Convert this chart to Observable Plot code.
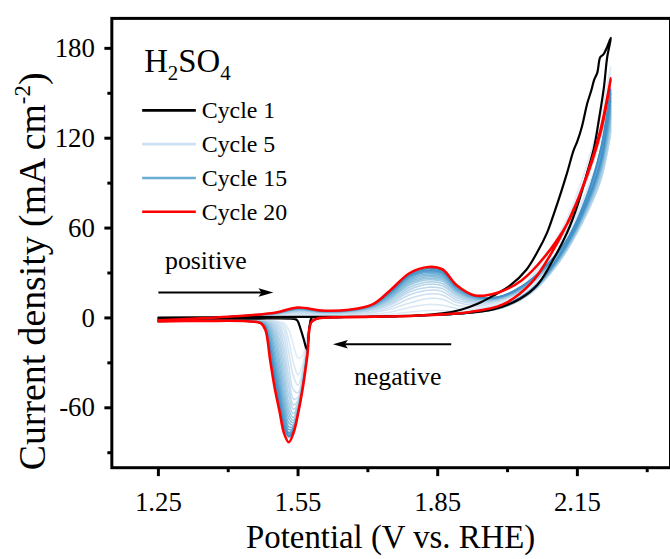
<!DOCTYPE html>
<html>
<head>
<meta charset="utf-8">
<script src="https://cdn.jsdelivr.net/npm/d3@7"></script>
<script src="https://cdn.jsdelivr.net/npm/@observablehq/plot@0.6"></script>
<style>
  html, body { margin: 0; padding: 0; background: #fff; overflow: hidden; }
  #chart { width: 670px; height: 559px; overflow: hidden; }
</style>
</head>
<body>
<div id="chart"></div>
<script>
// ---------- data ----------
// potential grids (V vs. RHE)
const potentialForward = [1.25, 1.40, 1.50, 1.55, 1.60, 1.66, 1.71, 1.75, 1.79, 1.83, 1.86, 1.89, 1.93, 1.98, 2.03, 2.08, 2.13, 2.17, 2.20, 2.222];
const potentialReverse = [2.20, 2.16, 2.11, 2.05, 1.99, 1.92, 1.80, 1.65, 1.59, 1.578, 1.57, 1.56, 1.55, 1.54, 1.53, 1.52, 1.51, 1.50, 1.49, 1.48, 1.47, 1.44, 1.35, 1.25];

// Cycle 1 (own grid)
const cycle1PotentialForward = [1.25, 1.40, 1.55, 1.70, 1.80, 1.86, 1.90, 1.937, 1.97, 2.007, 2.04, 2.064, 2.085, 2.100, 2.115, 2.128, 2.142, 2.150, 2.160, 2.171, 2.180, 2.186, 2.193, 2.199, 2.206, 2.214, 2.222];
const cycle1CurrentForward   = [0.3, 0.4, 0.7, 0.7, 1.5, 3, 5.5, 9.6, 15, 22, 32, 44, 57, 70, 84, 97, 112, 118, 128, 143, 152, 159, 164, 174, 176, 181, 187];
const cycle1PotentialReverse = [2.214, 2.207, 2.196, 2.186, 2.171, 2.150, 2.128, 2.100, 2.064, 2.028, 1.973, 1.90, 1.80, 1.70, 1.60, 1.58, 1.575, 1.569, 1.562, 1.555, 1.548, 1.54, 1.45, 1.35, 1.25];
const cycle1CurrentReverse   = [174, 154, 132, 114, 97, 75, 57, 40, 22, 13, 6, 3, 1.5, 0.8, 0.5, 0.3, -5, -21, -14, -7, -1.5, -0.6, -0.5, -0.5, -0.5];

// Cycle 20
const cycle20CurrentForward = [-1.5, 0.8, 3.5, 7, 5, 5.5, 9, 19, 30, 34, 32.5, 22, 15, 17, 25, 41, 64, 95, 126, 160];
const cycle20CurrentReverse = [124, 86, 52, 23, 9, 4, 1.5, 0.5, -0.5, -3, -25, -47, -64, -77, -83, -77, -62, -47, -28, -8, -3.5, -2.2, -2, -2.3];

// Cycles 2..19 (forward sweep, on potentialForward)
const midCycles = [2, 3, 4, 5, 6, 7, 8, 9, 10, 11, 12, 13, 14, 15, 16, 17, 18, 19];
const midCurrentForward = [
  [-0.8, 0.3, 0.8, 1.5, 1, 1, 1.5, 2.5, 4, 5, 5, 4.5, 5, 9, 20, 40, 68, 102, 135, 168],
  [-1, 0.4, 1.2, 2.3, 1.6, 1.7, 2.5, 4, 7, 9, 8.5, 6.5, 6, 10, 20, 37, 61, 91, 120, 150],
  [-1, 0.5, 1.5, 3, 2.2, 2.3, 3.5, 6, 10, 13, 12.5, 8.5, 7.5, 11, 19, 34, 55, 83, 108, 135],
  [-1.1, 0.5, 1.8, 3.5, 2.6, 2.8, 4, 7.5, 13, 16, 15.3, 10.5, 8.5, 11, 18, 31, 50, 76, 100, 126],
  [-1.1, 0.5, 2, 4, 3, 3.2, 5, 9, 15.5, 18.5, 17.7, 12, 9.5, 11.5, 18, 31, 49, 75, 99, 125],
  [-1.2, 0.6, 2.2, 4.4, 3.3, 3.5, 5.5, 10, 17.5, 20.5, 19.6, 13.5, 10.5, 12, 18, 31, 49, 75, 100, 126],
  [-1.2, 0.6, 2.4, 4.7, 3.5, 3.8, 6, 11, 19, 22.5, 21.5, 15, 11, 12, 18.5, 31, 49.5, 76, 101, 128],
  [-1.2, 0.6, 2.5, 5, 3.7, 4, 6.5, 12, 20.5, 24, 23, 16, 11.5, 12.5, 18.5, 31.5, 50, 76, 102, 130],
  [-1.3, 0.6, 2.6, 5.2, 3.9, 4.2, 7, 13, 22, 25.5, 24.4, 17, 12, 12.5, 19, 32, 50, 77, 104, 132],
  [-1.3, 0.7, 2.7, 5.4, 4, 4.4, 7, 13.5, 23, 26.5, 25.3, 17.5, 12.5, 13, 19, 32, 51, 77, 105, 134],
  [-1.3, 0.7, 2.8, 5.6, 4.1, 4.5, 7.5, 14, 24, 27.5, 26.3, 18, 13, 13, 19.5, 32.5, 51, 78, 106, 136],
  [-1.3, 0.7, 2.9, 5.8, 4.2, 4.6, 7.5, 14.5, 25, 28.5, 27.2, 18.5, 13, 13, 19.5, 32.5, 51.5, 78, 107, 138],
  [-1.4, 0.7, 3, 6, 4.3, 4.8, 8, 15.5, 26, 29.5, 28.2, 19, 13.5, 13.5, 20, 33, 52, 79, 108, 140],
  [-1.4, 0.7, 3.1, 6.1, 4.4, 4.9, 8, 16, 27, 30.5, 29.2, 19.5, 14, 13.5, 20, 33, 52, 79, 109, 142],
  [-1.4, 0.7, 3.2, 6.2, 4.5, 5, 8.5, 16.5, 27.5, 31, 29.6, 20, 14, 13.5, 20.5, 33.5, 52.5, 80, 110, 145],
  [-1.4, 0.8, 3.2, 6.3, 4.6, 5.1, 8.5, 17, 28, 31.5, 30.1, 20.5, 14.5, 14, 20.5, 33.5, 53, 80, 111, 147],
  [-1.5, 0.8, 3.3, 6.4, 4.7, 5.2, 9, 17.5, 28.5, 32, 30.6, 21, 14.5, 14, 21, 34, 53, 81, 112, 150],
  [-1.5, 0.8, 3.4, 6.6, 4.8, 5.3, 9, 18, 29, 33, 31.5, 21.5, 14.5, 14, 21, 34, 53.5, 81, 113, 153]
];
// Cycles 2..19 (reverse sweep, on potentialReverse)
const midCurrentReverse = [
  [125, 88, 52, 22, 8, 3.5, 1.5, 0.5, -0.2, -2, -10, -25, -27, -18, -8, -3.5, -2.5, -2, -1.8, -1.6, -1.5, -1.4, -1.3, -1.4],
  [111, 78, 46, 20, 8, 3.5, 1.5, 0.5, -0.2, -2.2, -14, -31, -38, -30, -15, -5, -3, -2.2, -2, -1.8, -1.7, -1.5, -1.4, -1.5],
  [100, 70, 41, 18, 7.5, 3.5, 1.5, 0.5, -0.3, -2.3, -16, -35, -45, -39, -23, -8, -3.5, -2.4, -2.1, -1.9, -1.8, -1.6, -1.5, -1.6],
  [93, 64, 37, 16.5, 7, 3.5, 1.5, 0.5, -0.3, -2.4, -17, -37, -50, -48, -32, -13, -5, -2.7, -2.2, -2, -1.9, -1.7, -1.6, -1.7],
  [92, 63, 37, 16.5, 7, 3.5, 1.5, 0.5, -0.3, -2.5, -18, -39, -53, -54, -40, -19, -7, -3.2, -2.4, -2.1, -2, -1.8, -1.7, -1.8],
  [92, 64, 37, 16.5, 7, 3.5, 1.5, 0.5, -0.3, -2.6, -19, -40, -55, -58, -46, -25, -10, -4, -2.6, -2.2, -2.1, -1.9, -1.7, -1.9],
  [93, 64, 37.5, 17, 7, 3.5, 1.5, 0.5, -0.3, -2.6, -20, -41, -57, -61, -52, -31, -14, -5.5, -3, -2.3, -2.2, -1.9, -1.8, -1.9],
  [94, 65, 38, 17, 7, 3.5, 1.5, 0.5, -0.4, -2.7, -20.5, -42, -58, -64, -57, -37, -18, -7.5, -3.5, -2.5, -2.3, -2, -1.8, -2],
  [96, 65, 38, 17, 7, 3.5, 1.5, 0.5, -0.4, -2.7, -21, -43, -59, -66.5, -61, -42, -23, -10, -4.5, -2.7, -2.4, -2, -1.8, -2],
  [97, 66, 38.5, 17.5, 7.5, 3.5, 1.5, 0.5, -0.4, -2.8, -21.5, -43.5, -60, -68.5, -64, -47, -28, -13, -5.5, -3, -2.5, -2.1, -1.9, -2.1],
  [98, 66, 39, 17.5, 7.5, 3.5, 1.5, 0.5, -0.4, -2.8, -22, -44, -61, -70, -67, -52, -32, -17, -7, -3.3, -2.6, -2.1, -1.9, -2.1],
  [99, 67, 39, 17.5, 7.5, 3.5, 1.5, 0.5, -0.4, -2.8, -22, -44.5, -61.5, -71.5, -70, -56, -37, -21, -9, -3.7, -2.8, -2.1, -1.9, -2.1],
  [100, 67, 39.5, 18, 7.5, 3.5, 1.5, 0.5, -0.5, -2.9, -22.5, -45, -62, -72.5, -72.5, -60, -41, -25, -11, -4.2, -2.9, -2.1, -1.9, -2.2],
  [101, 68, 40, 18, 7.5, 3.5, 1.5, 0.5, -0.5, -2.9, -22.5, -45, -62, -73.5, -74.5, -63, -45, -29, -13, -4.8, -3.1, -2.1, -1.9, -2.2],
  [102, 68, 40, 18, 8, 3.5, 1.5, 0.5, -0.5, -2.9, -23, -45.5, -62.5, -74, -76.5, -66, -48.5, -32, -15.5, -5.3, -3.2, -2.2, -2, -2.2],
  [103, 69, 40.5, 18, 8, 3.5, 1.5, 0.5, -0.5, -3, -23, -46, -63, -75, -77.5, -68.5, -51.5, -35.5, -18, -6, -3.3, -2.2, -2, -2.2],
  [104, 69, 41, 18.5, 8, 3.5, 1.5, 0.5, -0.5, -3, -23, -46, -63, -75.5, -78.5, -71, -54.5, -38.5, -20, -6.5, -3.4, -2.2, -2, -2.3],
  [105, 70, 41, 18.5, 8, 3.5, 1.5, 0.5, -0.5, -3, -23, -46.5, -63.5, -76, -79.5, -73, -57, -41, -22, -7, -3.5, -2.2, -2, -2.3]
];

// axis ticks
const xMajorTicks = [1.25, 1.55, 1.85, 2.15];
const xMinorTicks = [1.40, 1.70, 2.00, 2.30];
const yMajorTicks = [-60, 0, 60, 120, 180];
const yMinorTicks = [-90, -30, 30, 90, 150];

// legend entries & annotations
const legendLabels = ["Cycle 1", "Cycle 5", "Cycle 15", "Cycle 20"];
const legendCycles = [1, 5, 15, 20];
const arrowNotes = [
  {x1: 1.25, x2: 1.497, y: 17, label: "positive", lx: 1.352, ly: 33},
  {x1: 1.879, x2: 1.625, y: -17.6, label: "negative", lx: 1.764, ly: -44.8}
];

// ---------- build tables ----------
function cycleRows(cycle, fV, fI, rV, rI) {
  const rows = [];
  fV.forEach((v, i) => rows.push({cycle, V: v, I: fI[i]}));
  rV.forEach((v, i) => rows.push({cycle, V: v, I: rI[i]}));
  return rows;
}
const blueRows = midCycles.flatMap((c, k) =>
  cycleRows(c, potentialForward, midCurrentForward[k], potentialReverse, midCurrentReverse[k]));
const blackRows = cycleRows(1, cycle1PotentialForward, cycle1CurrentForward, cycle1PotentialReverse, cycle1CurrentReverse);
const redRows = cycleRows(20, potentialForward, cycle20CurrentForward, potentialReverse, cycle20CurrentReverse);

const blueColor = c => d3.interpolateBlues(0.12 + (c - 2) * 0.03);
const cycleColor = c => c === 1 ? "#000" : c === 20 ? "#ff0000" : blueColor(c);

// slender filled arrowhead, tip at the origin, body pointing down before rotation
const arrowHead = {
  draw(context) {
    context.moveTo(0, 0);
    context.lineTo(4.2, 15);
    context.lineTo(0, 12);
    context.lineTo(-4.2, 15);
    context.closePath();
  }
};

const FONT = "'Liberation Serif', 'Times New Roman', Times, serif";

const chart = Plot.plot({
  width: 674,
  height: 559,
  marginLeft: 112,
  marginRight: 0,
  marginTop: 18,
  marginBottom: 89,
  style: {fontFamily: FONT, background: "white", color: "black", overflow: "hidden"},
  x: {domain: [1.15, 2.35]},
  y: {domain: [-100, 200]},
  color: {type: "identity"},
  marks: [
    Plot.line(blueRows, {x: "V", y: "I", z: "cycle", stroke: d => blueColor(d.cycle), strokeWidth: 1.6, curve: "catmull-rom"}),
    Plot.line(blackRows, {x: "V", y: "I", stroke: "#000", strokeWidth: 2.2, curve: "catmull-rom"}),
    Plot.line(redRows, {x: "V", y: "I", stroke: "#ff0000", strokeWidth: 2.6, curve: "catmull-rom"}),
    Plot.link(arrowNotes, {x1: "x1", x2: d => d.x2 + (d.x2 > d.x1 ? -0.02 : 0.02), y1: "y", y2: "y", stroke: "#000", strokeWidth: 2}),
    Plot.dot(arrowNotes, {x: "x2", y: "y", symbol: arrowHead, rotate: d => d.x2 > d.x1 ? 90 : -90, fill: "#000", stroke: "none", r: 4}),
    Plot.text(arrowNotes, {x: "lx", y: "ly", text: "label", fontSize: 26, lineAnchor: "bottom", fill: "#000"}),
    Plot.axisX(xMajorTicks, {tickSize: 9, tickPadding: 15, strokeWidth: 3, fontSize: 27, tickFormat: d => d.toFixed(2), label: null}),
    Plot.axisX(xMinorTicks, {tickSize: 5, strokeWidth: 3, tickFormat: () => "", label: null}),
    Plot.axisY(yMajorTicks, {tickSize: 7, tickPadding: 10, strokeWidth: 3, fontSize: 27, tickFormat: d => String(d), label: null}),
    Plot.axisY(yMinorTicks, {tickSize: 4, strokeWidth: 3, tickFormat: () => "", label: null}),
    Plot.frame({stroke: "#000", strokeWidth: 3})
  ]
});

document.getElementById("chart").appendChild(chart);

// ---------- extra text: axis titles, H2SO4 label, legend ----------
const svg = d3.select(chart);
const g = svg.append("g").attr("font-family", FONT).attr("fill", "#000").attr("text-anchor", "start");

g.append("text")
  .attr("x", 393).attr("y", 551)
  .attr("text-anchor", "middle").attr("font-size", 33)
  .text("Potential (V vs. RHE)");

const yl = g.append("text")
  .attr("transform", "translate(45,273) rotate(-90)")
  .attr("text-anchor", "middle").attr("font-size", 38);
yl.append("tspan").text("Current density (mA cm");
yl.append("tspan").attr("font-size", 23).attr("dy", -15).text("-2");
yl.append("tspan").attr("dy", 15).text(")");

const h = g.append("text").attr("x", 145).attr("y", 72).attr("font-size", 33).attr("text-anchor", "start");
h.append("tspan").text("H");
h.append("tspan").attr("font-size", 21).attr("dy", 8).text("2");
h.append("tspan").attr("dy", -8).text("SO");
h.append("tspan").attr("font-size", 21).attr("dy", 8).text("4");

legendLabels.forEach((lab, i) => {
  const y = 111 + i * 34;
  g.append("line")
    .attr("x1", 143).attr("x2", 197).attr("y1", y).attr("y2", y)
    .attr("stroke", cycleColor(legendCycles[i])).attr("stroke-width", 2.6);
  g.append("text")
    .attr("x", 203).attr("y", y + 8).attr("font-size", 24).attr("text-anchor", "start")
    .text(lab);
});
</script>
</body>
</html>
